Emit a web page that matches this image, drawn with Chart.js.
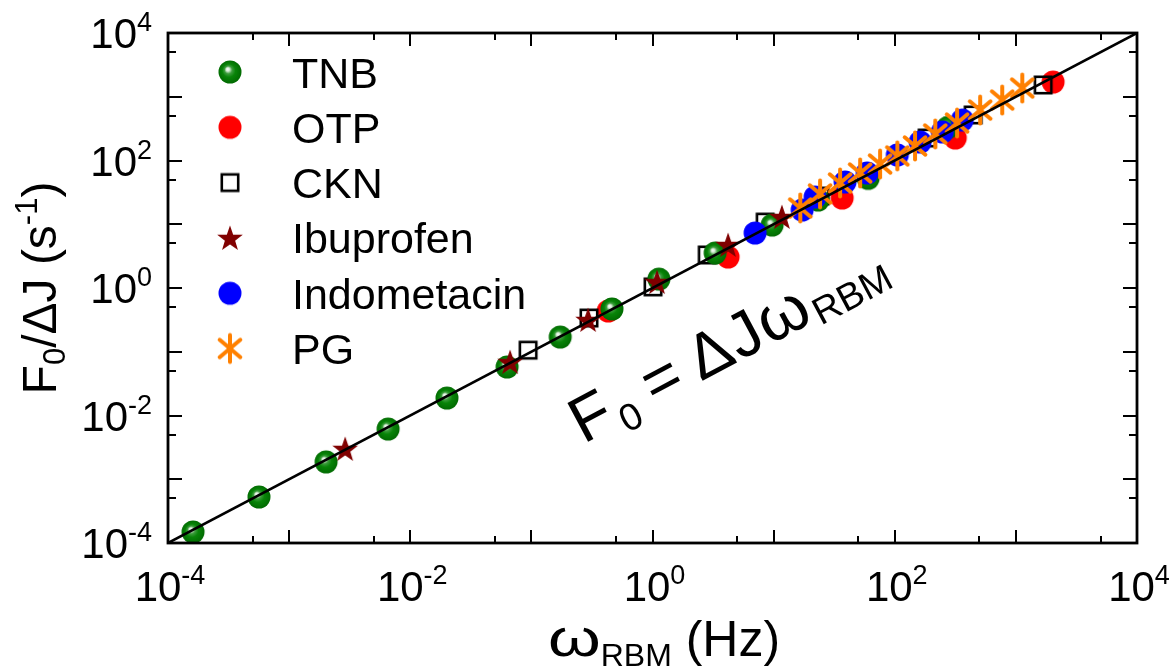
<!DOCTYPE html>
<html lang="en">

<head>
  <title>F0 / dJ vs omega RBM</title>
  <meta charset="UTF-8">
  <script src="https://cdn.jsdelivr.net/npm/chart.js"></script>
  <style>
    body { margin: 0; background: #fff; }
    .container { width: 1175px; height: 671px; }
  </style>
</head>

<body>
  <div class="container"><canvas id="chart" width="1175" height="671"></canvas></div>
</body>

<script>
  // values: omega_RBM (Hz) and F0/dJ (s^-1)
  const tnbW = [1.61e-4, 5.64e-4, 2.02e-3, 6.56e-3, 0.0201, 0.063, 0.173, 0.463, 1.13, 3.29, 9.72, 23.3, 60.3, 275];
  const tnbF = [1.49e-4, 5.27e-4, 1.87e-3, 6.14e-3, 0.0188, 0.0577, 0.170, 0.469, 1.38, 3.54, 9.73, 24.0, 52.5, 331];

  const otpW = [0.431, 4.21, 36.8, 316, 2030];
  const otpF = [0.436, 3.06, 25.8, 225, 1700];

  const cknW = [0.094, 0.299, 1.01, 2.83, 8.51, 24.2, 185, 444, 1680];
  const cknF = [0.106, 0.338, 1.04, 3.30, 10.8, 27.7, 225, 518, 1530];

  const ibuW = [2.90e-3, 0.0667, 0.294, 1.09, 4.21, 11.7];
  const ibuF = [2.99e-3, 0.069, 0.315, 1.24, 4.73, 13.0];

  const indoW = [7.03, 17.2, 22.0, 38.9, 59.2, 105, 162, 247, 361];
  const indoF = [7.29, 16.7, 26.7, 46.0, 63.7, 122, 195, 280, 431];

  const pgW = [16.6, 24.2, 35.4, 51.8, 75.7, 105, 147, 216, 327, 507, 771, 1130];
  const pgF = [18.0, 29.9, 44.4, 63.7, 88.1, 118, 169, 261, 387, 619, 889, 1370];

  // F0 = dJ * omega
  const fitW = [1e-4, 1e4];
  const fitF = [1e-4, 1e4];

  const tickExp = [-4, -2, 0, 2, 4];
  const nomes = ['TNB', 'OTP', 'CKN', 'Ibuprofen', 'Indometacin', 'PG'];

  const fonte = "'Liberation Sans', Arial, sans-serif";

  function pontos(xs, ys) {
    return xs.map((x, i) => ({ x: x, y: ys[i] }));
  }

  function novoCanvas(w, h) {
    const c = document.createElement('canvas');
    c.width = w;
    c.height = h;
    return c;
  }

  // marker images
  function esfera() {
    const c = novoCanvas(26, 26);
    const g = c.getContext('2d');
    const grad = g.createRadialGradient(10.5, 10, 0, 13, 13, 12);
    grad.addColorStop(0, '#ffffff');
    grad.addColorStop(0.14, '#d8ecd8');
    grad.addColorStop(0.32, '#3d9c3d');
    grad.addColorStop(0.55, '#088408');
    grad.addColorStop(1, '#006800');
    g.fillStyle = grad;
    g.beginPath();
    g.arc(13, 13, 11.5, 0, Math.PI * 2);
    g.fill();
    return c;
  }

  function bola(cor) {
    const c = novoCanvas(26, 26);
    const g = c.getContext('2d');
    g.fillStyle = cor;
    g.beginPath();
    g.arc(13, 13, 11.5, 0, Math.PI * 2);
    g.fill();
    return c;
  }

  function quadrado() {
    const c = novoCanvas(24, 24);
    const g = c.getContext('2d');
    g.strokeStyle = '#000';
    g.lineWidth = 2.6;
    g.strokeRect(3.8, 3.8, 16.4, 16.4);
    return c;
  }

  function estrela() {
    const c = novoCanvas(30, 30);
    const g = c.getContext('2d');
    g.fillStyle = '#800000';
    g.beginPath();
    for (let i = 0; i < 10; i++) {
      const r = i % 2 === 0 ? 13.5 : 5.4;
      const a = -Math.PI / 2 + i * Math.PI / 5;
      const x = 15 + r * Math.cos(a);
      const y = 16 + r * Math.sin(a);
      if (i === 0) g.moveTo(x, y); else g.lineTo(x, y);
    }
    g.closePath();
    g.fill();
    return c;
  }

  function asterisco() {
    const c = novoCanvas(34, 34);
    const g = c.getContext('2d');
    g.strokeStyle = '#ff8000';
    g.lineWidth = 4;
    g.lineCap = 'round';
    const r = 13.5;
    for (const ang of [90, 40, -40]) {
      const a = ang * Math.PI / 180;
      g.beginPath();
      g.moveTo(17 - r * Math.cos(a), 17 - r * Math.sin(a));
      g.lineTo(17 + r * Math.cos(a), 17 + r * Math.sin(a));
      g.stroke();
    }
    return c;
  }

  const simbolos = [esfera(), bola('#ff0000'), quadrado(), estrela(), bola('#0000ff'), asterisco()];

  // text in pieces (sub / superscripts); k = horizontal stretch
  function larguraSeq(c, partes) {
    let w = 0;
    for (const p of partes) {
      c.font = p.s + 'px ' + fonte;
      w += c.measureText(p.t).width * (p.k || 1);
    }
    return w;
  }

  function textoSeq(c, partes, x, y, alinh) {
    const w = larguraSeq(c, partes);
    let px = x;
    if (alinh === 'center') px = x - w / 2;
    if (alinh === 'right') px = x - w;
    c.textAlign = 'left';
    c.textBaseline = 'alphabetic';
    for (const p of partes) {
      c.font = p.s + 'px ' + fonte;
      const k = p.k || 1;
      c.save();
      c.translate(px, y + (p.dy || 0));
      c.scale(k, 1);
      c.fillText(p.t, 0, 0);
      c.restore();
      px += c.measureText(p.t).width * k;
    }
  }

  function potencia(e) {
    return [{ t: '10', s: 42 }, { t: String(e), s: 27, dy: -17 }];
  }

  const eixos = {
    id: 'eixos',
    afterDraw(chart) {
      const c = chart.ctx;
      const a = chart.chartArea;
      const sx = chart.scales.x;
      const sy = chart.scales.y;
      c.save();
      c.fillStyle = '#000';
      c.strokeStyle = '#000';

      // ticks, inward, on all four sides
      c.lineWidth = 2;
      for (let d = -4; d <= 4; d++) {
        for (const m of [1, 5]) {
          const v = m * Math.pow(10, d);
          if (v > 1.0001e4) continue;
          const px = Math.round(sx.getPixelForValue(v));
          const py = Math.round(sy.getPixelForValue(v));
          const lx = m === 1 ? 13 : 7;
          const ly = m === 1 ? 14 : 8;
          c.beginPath();
          c.moveTo(px, a.bottom); c.lineTo(px, a.bottom - lx);
          c.moveTo(px, a.top); c.lineTo(px, a.top + lx);
          c.moveTo(a.left, py); c.lineTo(a.left + ly, py);
          c.moveTo(a.right, py); c.lineTo(a.right - ly, py);
          c.stroke();
        }
      }

      c.lineWidth = 2.8;
      c.strokeRect(a.left, a.top, a.right - a.left, a.bottom - a.top);

      // tick labels
      for (const e of tickExp) {
        const v = Math.pow(10, e);
        textoSeq(c, potencia(e), sx.getPixelForValue(v) + 2, 601, 'center');
        textoSeq(c, potencia(e), 152, sy.getPixelForValue(v) + 15, 'right');
      }

      // x title
      textoSeq(c, [
        { t: '\u03c9', s: 52, k: 1.3 },
        { t: 'RBM', s: 32, dy: 10 },
        { t: ' (Hz)', s: 50 }
      ], 664, 656, 'center');

      // y title
      c.save();
      c.translate(56, (a.top + a.bottom) / 2);
      c.rotate(-Math.PI / 2);
      textoSeq(c, [
        { t: 'F', s: 48 },
        { t: '0', s: 31, dy: 9 },
        { t: '/\u0394J (s', s: 48 },
        { t: '-1', s: 31, dy: -19 },
        { t: ')', s: 48 }
      ], 0, 0, 'center');
      c.restore();

      // legend
      for (let i = 0; i < nomes.length; i++) {
        const y = 72 + i * 55.3;
        const img = simbolos[i];
        c.drawImage(img, 230 - img.width / 2, y - img.height / 2);
        c.font = '43px ' + fonte;
        c.textAlign = 'left';
        c.textBaseline = 'alphabetic';
        c.fillText(nomes[i], 292, y + 15.5);
      }

      // F0 = dJ omega annotation, along the line
      c.save();
      c.translate(661, 378);
      c.rotate(-28 * Math.PI / 180);
      c.textAlign = 'center';
      c.textBaseline = 'alphabetic';
      const rot = [
        { t: 'F', s: 64, x: -80, y: 22 },
        { t: '0', s: 38, x: -45, y: 33 },
        { t: '=', s: 64, x: 0, y: 22 },
        { t: '\u0394', s: 64, x: 55, y: 22 },
        { t: 'J', s: 64, x: 94, y: 22 },
        { t: '\u03c9', s: 66, x: 137, y: 22 },
        { t: 'RBM', s: 38, x: 208, y: 29 }
      ];
      for (const p of rot) {
        c.font = p.s + 'px ' + fonte;
        c.fillText(p.t, p.x, p.y);
      }
      c.restore();

      c.restore();
    }
  };

  function serie(nome, xs, ys, img, ordem) {
    return {
      label: nome,
      data: pontos(xs, ys),
      pointStyle: img,
      pointRadius: 10,
      showLine: false,
      order: ordem
    };
  }

  const dados = {
    datasets: [
      {
        label: 'fit',
        data: pontos(fitW, fitF),
        showLine: true,
        borderColor: '#000',
        borderWidth: 2.6,
        pointRadius: 0,
        order: 0
      },
      serie('TNB', tnbW, tnbF, simbolos[0], 4),
      serie('OTP', otpW, otpF, simbolos[1], 6),
      serie('CKN', cknW, cknF, simbolos[2], 5),
      serie('Ibuprofen', ibuW, ibuF, simbolos[3], 3),
      serie('Indometacin', indoW, indoF, simbolos[4], 2),
      serie('PG', pgW, pgF, simbolos[5], 1)
    ]
  };

  const opcoes = {
    responsive: false,
    animation: false,
    devicePixelRatio: 1,
    layout: { padding: { left: 168, right: 38, top: 33, bottom: 128 } },
    scales: {
      x: { type: 'logarithmic', min: 1e-4, max: 1e4, display: false },
      y: { type: 'logarithmic', min: 1e-4, max: 1e4, display: false }
    },
    plugins: {
      legend: { display: false },
      tooltip: { enabled: false }
    }
  };

  const ctx1 = document.getElementById('chart');
  new Chart(ctx1, {
    type: 'scatter',
    data: dados,
    options: opcoes,
    plugins: [eixos]
  });
</script>

</html>
